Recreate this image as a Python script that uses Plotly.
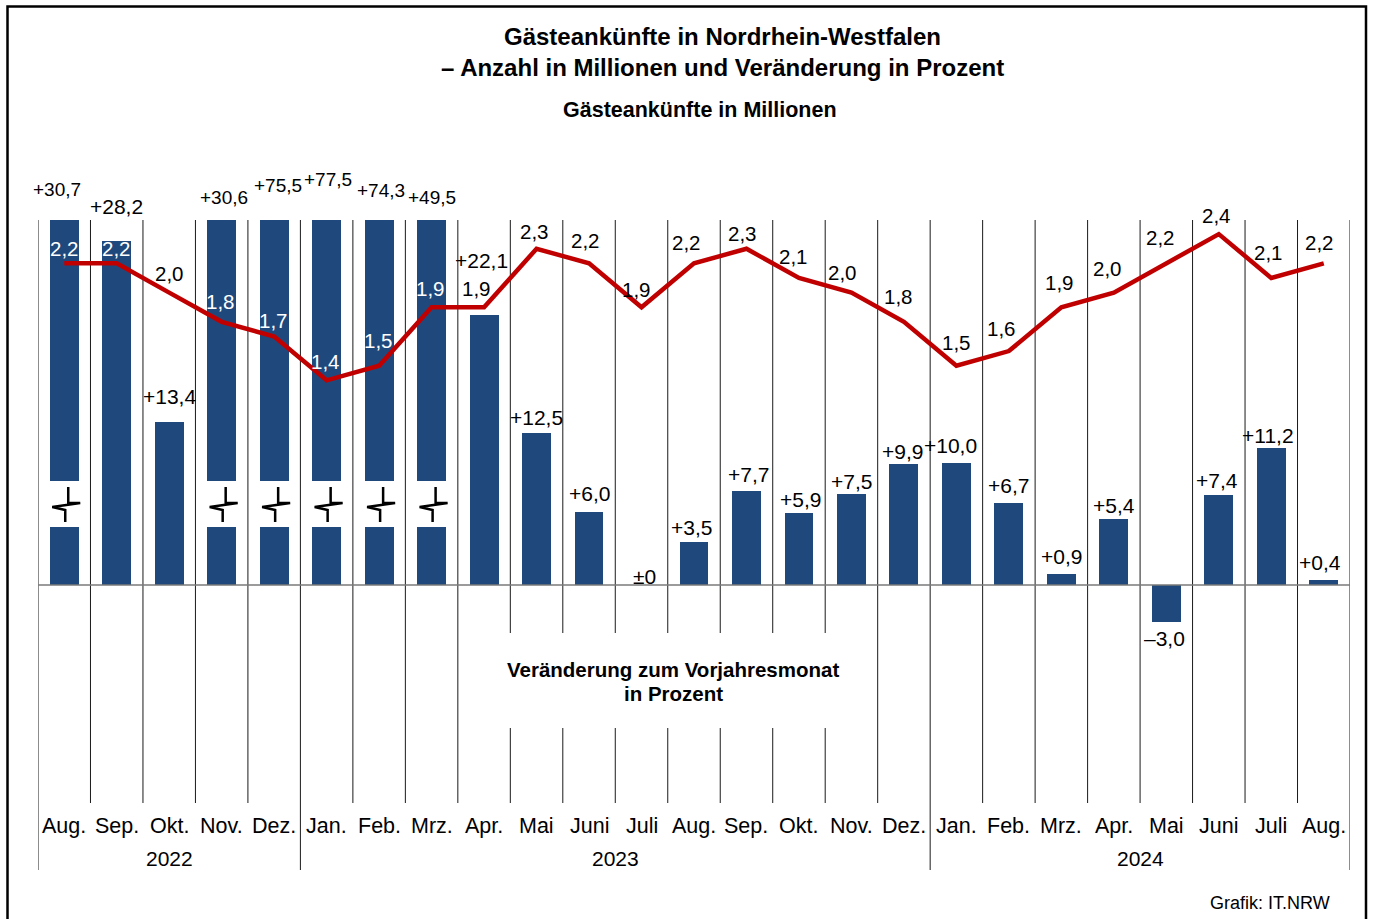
import plotly.graph_objects as go

# ---------------- data ----------------
months = ["Aug.", "Sep.", "Okt.", "Nov.", "Dez.",
          "Jan.", "Feb.", "Mrz.", "Apr.", "Mai", "Juni", "Juli", "Aug.", "Sep.", "Okt.", "Nov.", "Dez.",
          "Jan.", "Feb.", "Mrz.", "Apr.", "Mai", "Juni", "Juli", "Aug."]
years = ["2022", "2023", "2024"]
year_first_month = [0, 5, 17]
year_last_month = [4, 16, 24]
change_pct = [30.7, 28.2, 13.4, 30.6, 75.5, 77.5, 74.3, 49.5, 22.1, 12.5, 6.0, 0.0, 3.5,
              7.7, 5.9, 7.5, 9.9, 10.0, 6.7, 0.9, 5.4, -3.0, 7.4, 11.2, 0.4]
guests_mio = [2.2, 2.2, 2.0, 1.8, 1.7, 1.4, 1.5, 1.9, 1.9, 2.3, 2.2, 1.9, 2.2,
              2.3, 2.1, 2.0, 1.8, 1.5, 1.6, 1.9, 2.0, 2.2, 2.4, 2.1, 2.2]

# label nudges in pixels (dx, dy up)
pct_label_dx = [-7, 0, 0, 2, 4, 1, 2, 0, -3, 0, 0, 3, -3, 2, 2, 0, -1, -6, 0, 0, 0, -2, -2, -3, -4]
pct_label_dy = [31, 34, 25, 23, 35, 41, 30, 23, 55, 15, 18, 9, 15, 17, 14, 12, 13, 18, 18, 18, 14, -17, 14, 13, 18]
mio_label_dx = [0, 0, 0, -1, -1, -1, -1, -1, -8, -2, -4, -5, -8, -4, -5, -9, -5, 0, -7, -2, -6, -6, -2, -3, -4]
mio_label_dy = [15, 15, 19, 20, 16, 19, 25, 19, 19, 17, 23, 18, 21, 15, 21, 20, 25, 23, 23, 25, 24, 26, 19, 25, 21]

# ---------------- geometry ----------------
W, H = 1373, 919
L, R, T, B = 38, 1350, 220, 803
ZERO = 585
PX_PER_PCT = 12.2
PX_PER_MIO = 146.2

y_top = (ZERO - T) / PX_PER_PCT
y_bot = -(B - ZERO) / PX_PER_PCT
y2_top = (ZERO - T) / PX_PER_MIO
y2_bot = -(B - ZERO) / PX_PER_MIO

BAR = "#1F497D"
RED = "#C00000"
FONT = "Liberation Sans, Arial, sans-serif"


def pxx(p):
    return (p - L) / (R - L)


def pxy(p):
    return (B - p) / (B - T)


def fmt_pct(v):
    if v == 0:
        return "±0"
    s = f"{abs(v):.1f}".replace(".", ",")
    return ("+" if v > 0 else "–") + s


def fmt_mio(v):
    return f"{v:.1f}".replace(".", ",")


x = list(range(len(months)))

fig = go.Figure()
fig.add_trace(go.Bar(x=x, y=change_pct, width=0.55, marker=dict(color=BAR, line=dict(width=0)),
                     yaxis="y", hoverinfo="skip"))
fig.add_trace(go.Scatter(x=x, y=guests_mio, mode="lines", line=dict(color=RED, width=4.5),
                         yaxis="y2", hoverinfo="skip"))

shapes = []
# outer border
shapes.append(dict(type="rect", xref="paper", yref="paper", x0=pxx(7.5), x1=pxx(1366), y0=pxy(6.5), y1=pxy(940),
                   line=dict(color="black", width=2.5), fillcolor="rgba(0,0,0,0)", layer="below"))
# vertical grid lines
n = len(months)
long_lines = set(year_first_month) | {n}
gap_lines = set(range(9, 16))
for k in range(n + 1):
    xk = k - 0.5
    if k in long_lines:
        segs = [(pxy(870), 1)]
    elif k in gap_lines:
        segs = [(0, pxy(728)), (pxy(633), 1)]
    else:
        segs = [(0, 1)]
    for y0, y1 in segs:
        shapes.append(dict(type="line", xref="x", yref="paper", x0=xk, x1=xk, y0=y0, y1=y1,
                           line=dict(color="#1a1a1a", width=1), layer="below"))
# zero line
shapes.append(dict(type="line", xref="x", yref="y", x0=-0.5, x1=n - 0.5, y0=0, y1=0,
                   line=dict(color="#7a7a7a", width=1.5), layer="above"))
# axis breaks on truncated bars
for i, v in enumerate(change_pct):
    if v > y_top:
        shapes.append(dict(type="rect", xref="x", yref="y", x0=i - 0.32, x1=i + 0.32,
                           y0=(ZERO - 527) / PX_PER_PCT, y1=(ZERO - 481) / PX_PER_PCT,
                           fillcolor="white", line=dict(width=0), layer="above"))
        pts = [(4, 487), (4, 503), (16, 503), (-12, 507), (1, 510), (1, 522)]
        path = ""
        for j, (dx, py) in enumerate(pts):
            path += ("M" if j == 0 else "L") + f"{i + dx / 52.48:.4f},{(ZERO - py) / PX_PER_PCT:.4f} "
        shapes.append(dict(type="path", xref="x", yref="y", path=path.strip(),
                           line=dict(color="black", width=2.5), layer="above"))

ann = []
# percent labels
for i, v in enumerate(change_pct):
    ann.append(dict(x=i, y=min(v, y_top), xref="x", yref="y", text=fmt_pct(v), showarrow=False,
                    xshift=pct_label_dx[i], yshift=pct_label_dy[i], xanchor="center", yanchor="middle",
                    font=dict(family=FONT, size=19 if v > y_top else 21, color="black")))
# guest labels
for i, v in enumerate(guests_mio):
    label_px = ZERO - v * PX_PER_MIO - mio_label_dy[i]
    bar_top_px = ZERO - min(change_pct[i], y_top) * PX_PER_PCT
    col = "white" if (change_pct[i] > 0 and label_px > bar_top_px + 5) else "black"
    ann.append(dict(x=i, y=v, xref="x", yref="y2", text=fmt_mio(v), showarrow=False,
                    xshift=mio_label_dx[i], yshift=mio_label_dy[i], xanchor="center", yanchor="middle",
                    font=dict(family=FONT, size=20.5, color=col)))
# month labels
for i, m in enumerate(months):
    ann.append(dict(x=i, y=pxy(826), xref="x", yref="paper", text=m, showarrow=False,
                    xanchor="center", yanchor="middle", font=dict(family=FONT, size=21.5, color="black")))
# year labels
for yname, a, b in zip(years, year_first_month, year_last_month):
    ann.append(dict(x=(a + b) / 2, y=pxy(859), xref="x", yref="paper", text=yname, showarrow=False,
                    xanchor="center", yanchor="middle", font=dict(family=FONT, size=21, color="black")))
# titles
ann.append(dict(x=pxx(722), y=pxy(36), xref="paper", yref="paper", text="<b>Gästeankünfte in Nordrhein-Westfalen</b>",
                showarrow=False, xanchor="center", yanchor="middle", font=dict(family=FONT, size=24, color="black")))
ann.append(dict(x=pxx(722), y=pxy(68), xref="paper", yref="paper",
                text="<b>– Anzahl in Millionen und Veränderung in Prozent</b>",
                showarrow=False, xanchor="center", yanchor="middle", font=dict(family=FONT, size=24, color="black")))
ann.append(dict(x=pxx(700), y=pxy(110), xref="paper", yref="paper", text="<b>Gästeankünfte in Millionen</b>",
                showarrow=False, xanchor="center", yanchor="middle", font=dict(family=FONT, size=21.5, color="black")))
ann.append(dict(x=pxx(673), y=pxy(669), xref="paper", yref="paper",
                text="<b>Veränderung zum Vorjahresmonat</b>",
                showarrow=False, xanchor="center", yanchor="middle",
                font=dict(family=FONT, size=20.5, color="black")))
ann.append(dict(x=pxx(673), y=pxy(693), xref="paper", yref="paper",
                text="<b>in Prozent</b>",
                showarrow=False, xanchor="center", yanchor="middle",
                font=dict(family=FONT, size=20.5, color="black")))
ann.append(dict(x=pxx(1332), y=pxy(903), xref="paper", yref="paper", text="Grafik: IT.NRW",
                showarrow=False, xanchor="right", yanchor="middle", font=dict(family=FONT, size=18, color="black")))

fig.update_layout(
    width=W, height=H,
    margin=dict(l=L, r=W - R, t=T, b=H - B, pad=0),
    paper_bgcolor="white", plot_bgcolor="rgba(0,0,0,0)",
    showlegend=False, bargap=0,
    xaxis=dict(range=[-0.5, n - 0.5], showgrid=False, zeroline=False, showticklabels=False,
               showline=False, ticks="", fixedrange=True),
    yaxis=dict(range=[y_bot, y_top], visible=False, fixedrange=True),
    yaxis2=dict(range=[y2_bot, y2_top], visible=False, overlaying="y", fixedrange=True),
    shapes=shapes, annotations=ann,
    font=dict(family=FONT),
)

fig.write_html("out.html", config={"displayModeBar": False},
               post_script="document.body.style.margin='0';document.body.style.overflow='hidden';")
